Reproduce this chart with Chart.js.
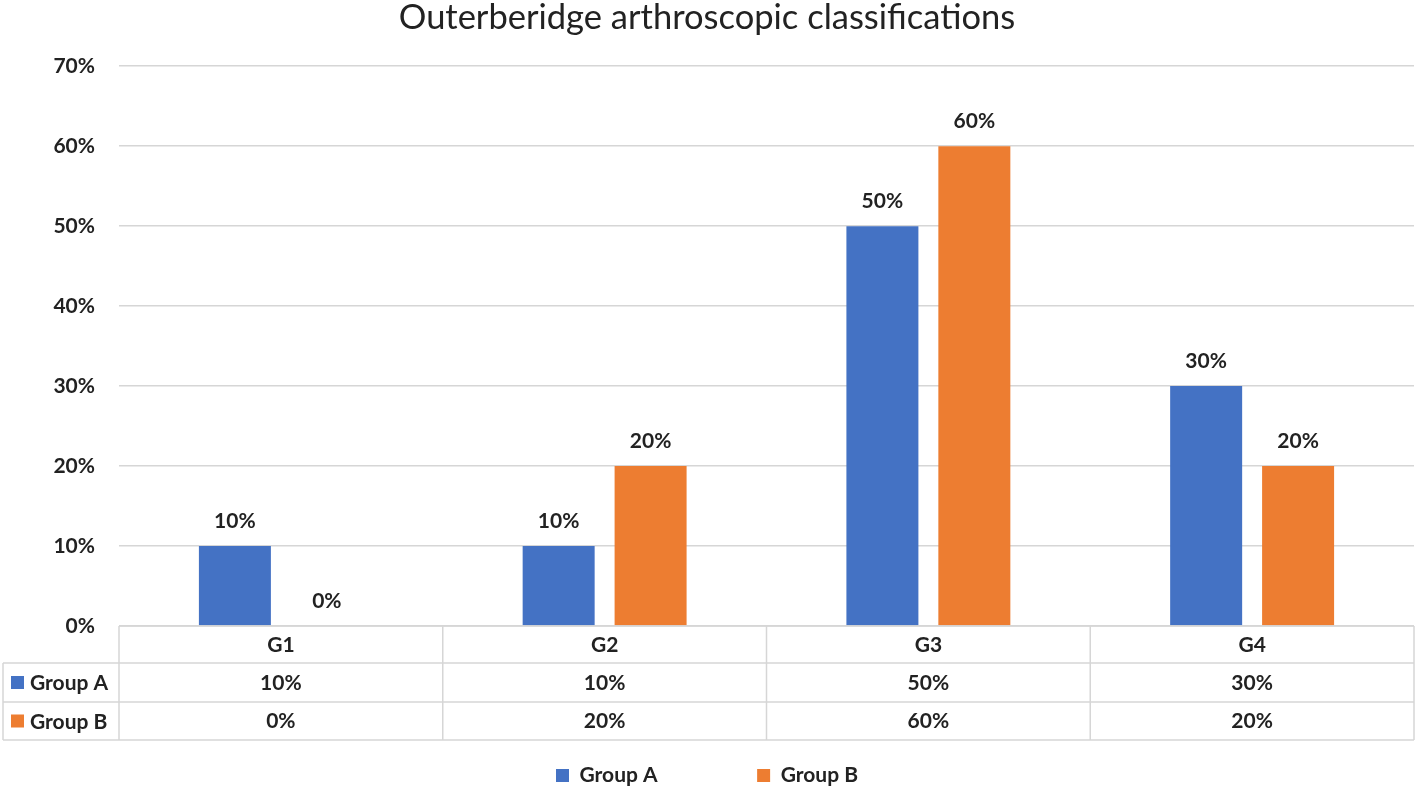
<!DOCTYPE html>
<html>
<head>
<meta charset="utf-8">
<script src="https://cdn.jsdelivr.net/npm/chart.js@4/dist/chart.umd.min.js"></script>
<style>
  html, body { margin: 0; padding: 0; background: #fff; }
  #wrap { width: 1416px; height: 791px; }
</style>
</head>
<body>
<div id="wrap"><canvas id="chart" width="1416" height="791"></canvas></div>
<script>
const categories = ["G1", "G2", "G3", "G4"];
const groupA = [10, 10, 50, 30];
const groupB = [0, 20, 60, 20];
const seriesNames = ["Group A", "Group B"];
const seriesColors = ["#4472C4", "#ED7D31"];
const yMax = 70;

const FONT = "Lato, 'Open Sans', sans-serif";
const TEXT = "#222222";
const LINE = "#d6d6d6";
const LABEL_SIZE = 21;

// percentages above each bar
const barLabels = {
  id: "barLabels",
  afterDatasetsDraw(chart) {
    const ctx = chart.ctx;
    ctx.save();
    ctx.font = "bold " + LABEL_SIZE + "px " + FONT;
    ctx.fillStyle = TEXT;
    ctx.textAlign = "center";
    ctx.textBaseline = "middle";
    chart.data.datasets.forEach((ds, i) => {
      chart.getDatasetMeta(i).data.forEach((bar, j) => {
        ctx.fillText(ds.data[j] + "%", bar.x, bar.y - 25);
      });
    });
    ctx.restore();
  }
};

// Excel-style data table under the plot
const dataTable = {
  id: "dataTable",
  afterDraw(chart) {
    const { ctx, chartArea, scales } = chart;
    const x = scales.x;
    const colW = (chartArea.right - chartArea.left) / categories.length;
    const top = chartArea.bottom;
    const rows = [top, top + 37, top + 76, top + 114];
    const leftEdge = 3;

    ctx.save();
    ctx.strokeStyle = LINE;
    ctx.lineWidth = 1.5;
    ctx.beginPath();
    ctx.moveTo(chartArea.left, rows[0]);
    ctx.lineTo(chartArea.right, rows[0]);
    for (let r = 1; r < rows.length; r++) {
      ctx.moveTo(leftEdge, rows[r]);
      ctx.lineTo(chartArea.right, rows[r]);
    }
    for (let c = 0; c <= categories.length; c++) {
      const xx = chartArea.left + c * colW;
      ctx.moveTo(xx, rows[0]);
      ctx.lineTo(xx, rows[3]);
    }
    ctx.moveTo(leftEdge, rows[1]);
    ctx.lineTo(leftEdge, rows[3]);
    ctx.stroke();

    ctx.font = "bold " + LABEL_SIZE + "px " + FONT;
    ctx.fillStyle = TEXT;
    ctx.textBaseline = "middle";
    ctx.textAlign = "center";
    categories.forEach((cat, i) => {
      const cx = x.getPixelForValue(i);
      ctx.fillText(cat, cx, (rows[0] + rows[1]) / 2 + 1);
      ctx.fillText(groupA[i] + "%", cx, (rows[1] + rows[2]) / 2 + 1);
      ctx.fillText(groupB[i] + "%", cx, (rows[2] + rows[3]) / 2);
    });

    ctx.textAlign = "left";
    seriesNames.forEach((name, s) => {
      const cy = (rows[s + 1] + rows[s + 2]) / 2;
      ctx.fillStyle = seriesColors[s];
      ctx.fillRect(11, cy - 6.5, 13, 13);
      ctx.fillStyle = TEXT;
      ctx.fillText(name, 30, cy + 1);
    });
    ctx.restore();
  }
};

new Chart(document.getElementById("chart"), {
  type: "bar",
  data: {
    labels: categories,
    datasets: [
      { label: seriesNames[0], data: groupA, backgroundColor: seriesColors[0] },
      { label: seriesNames[1], data: groupB, backgroundColor: seriesColors[1] }
    ]
  },
  options: {
    responsive: false,
    animation: false,
    categoryPercentage: 0.568,
    barPercentage: 0.783,
    layout: { padding: { top: 0, right: 2, bottom: -5, left: 0 } },
    plugins: {
      title: {
        display: true,
        text: "Outerberidge arthroscopic classifications",
        color: TEXT,
        font: { family: FONT, size: 34.5, weight: "normal", lineHeight: 1.05 },
        padding: { top: 0, bottom: 30 }
      },
      legend: {
        position: "bottom",
        labels: {
          color: TEXT,
          font: { family: FONT, size: LABEL_SIZE, weight: "bold", lineHeight: 1.0 },
          boxWidth: 13,
          boxHeight: 13,
          padding: 5,
          generateLabels(chart) {
            return chart.data.datasets.map((ds, i) => ({
              text: i === 0 ? ds.label + "\u2003\u2003\u2003\u2003\u2003\u2002\u2009\u2009" : ds.label,
              fillStyle: ds.backgroundColor,
              strokeStyle: ds.backgroundColor,
              lineWidth: 0,
              fontColor: TEXT,
              hidden: false,
              datasetIndex: i
            }));
          }
        }
      },
      tooltip: { enabled: false }
    },
    scales: {
      x: {
        grid: { display: false },
        border: { display: false },
        ticks: { display: false },
        afterFit(scale) { scale.height = 134; }
      },
      y: {
        min: 0,
        max: yMax,
        ticks: {
          stepSize: 10,
          padding: 24,
          color: TEXT,
          font: { family: FONT, size: LABEL_SIZE, weight: "bold" },
          callback: (v) => v + "%"
        },
        grid: { color: LINE, lineWidth: 1.5, drawTicks: false },
        border: { display: false },
        afterFit(scale) { scale.width = 119; }
      }
    }
  },
  plugins: [barLabels, dataTable]
});
</script>
</body>
</html>
